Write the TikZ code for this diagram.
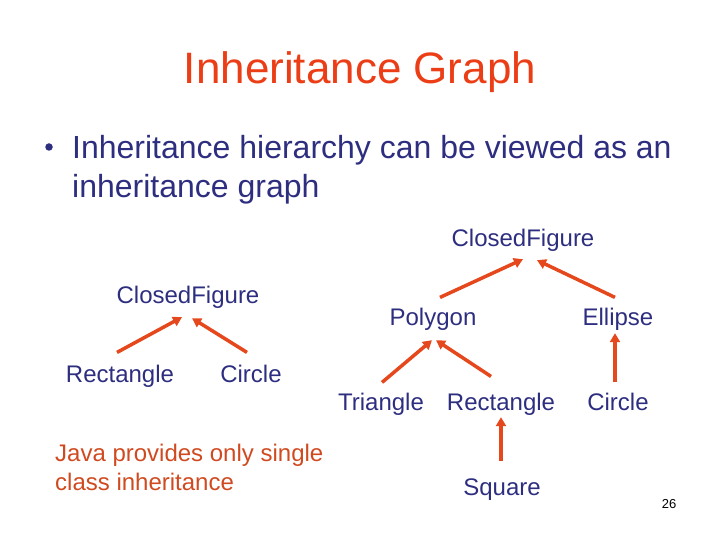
\documentclass[tikz,border=0pt]{standalone}
\usepackage{fontspec}
\setmainfont{Liberation Sans}
\usetikzlibrary{arrows.meta,positioning,calc}
\definecolor{titlecolor}{RGB}{236,62,22}
\definecolor{textcolor}{RGB}{46,46,128}
\definecolor{arrowcolor}{RGB}{228,72,28}
\definecolor{notecolor}{RGB}{208,74,32}
\tikzset{
  cls/.style     = {inner sep=0pt, anchor=base, text=textcolor,
                    font=\fontsize{24}{28}\selectfont},
  heading/.style = {inner sep=0pt, anchor=base, text=titlecolor,
                    font=\fontsize{44}{50}\selectfont},
  bullet/.style  = {inner sep=0pt, anchor=base west, text=textcolor,
                    font=\fontsize{32}{39}\selectfont},
  dot/.style     = {circle, inner sep=0pt, minimum size=7.5pt, fill=textcolor},
  note/.style    = {inner sep=0pt, anchor=base west, text=notecolor,
                    font=\fontsize{24}{29}\selectfont},
  inh/.style     = {-{Triangle[length=9pt,width=10pt]},
                    line width=3.5pt, draw=arrowcolor} % child -> parent
}

\begin{document}
\begin{tikzpicture}[x=1pt,y=-1pt]
\useasboundingbox (0,0) rectangle (720,540);

% title and bullet
\node[heading] (title) at (360,84) {Inheritance Graph};
\node[dot] (bdot) at (49,147) {};
\node[bullet] (line1) at (72,159) {Inheritance hierarchy can be viewed as an};
\node[bullet] (line2) at (72,198) {inheritance graph};

% --- single inheritance (left) ---
\node[cls] (cfL)   at (188,303) {ClosedFigure};
\node[cls] (rectL) at (120,382) {Rectangle};
\node[cls] (circL) at (251,382) {Circle};

\draw[inh] ([shift={(-3,-12)}]rectL.north) -- ([shift={(-6,9)}]cfL.south);
\draw[inh] ([shift={(-4,-12)}]circL.north) -- ([shift={(4,10)}]cfL.south);

% --- deeper hierarchy (right) ---
\node[cls] (cfR)   at (523,246) {ClosedFigure};
\node[cls] (poly)  at (433,325) {Polygon};
\node[cls] (ell)   at (618,325) {Ellipse};
\node[cls] (tri)   at (381,410) {Triangle};
\node[cls] (rectR) at (501,410) {Rectangle};
\node[cls] (circR) at (618,410) {Circle};
\node[cls] (sq)    at (502,495) {Square};

\draw[inh] ([shift={(7,-10)}]poly.north)   -- ([shift={(0,8)}]cfR.south);
\draw[inh] ([shift={(-3,-10)}]ell.north)   -- ([shift={(14,9)}]cfR.south);
\draw[inh] ([shift={(1,-10)}]tri.north)    -- ([shift={(-1,10)}]poly.south);
\draw[inh] ([shift={(-10,-16)}]rectR.north) -- ([shift={(3,10)}]poly.south);
\draw[inh] ([shift={(-3,-10)}]circR.north) -- ([shift={(-3,3)}]ell.south);
\draw[inh] ([shift={(-1,-17)}]sq.north)    -- ([shift={(0,2)}]rectR.south);

% note and page number
\node[note] (note1) at (55,461) {Java provides only single};
\node[note] (note2) at (55,490) {class inheritance};
\node[inner sep=0pt, anchor=base, font=\fontsize{13}{15}\selectfont] (page) at (669,508) {26};

\end{tikzpicture}
\end{document}
